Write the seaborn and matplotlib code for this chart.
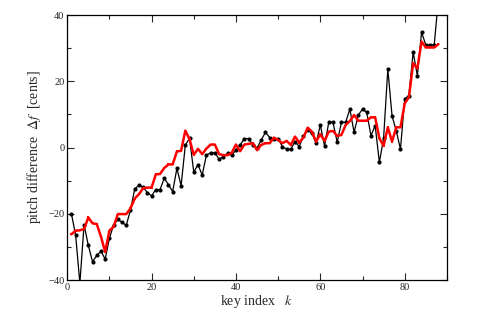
import numpy as np
import pandas as pd
import matplotlib
matplotlib.use('Agg')
import matplotlib.pyplot as plt
from matplotlib.ticker import MultipleLocator
import seaborn as sns

# key index and pitch deviations (cents)
keys = list(range(1, 89))
measured = [-20, -26.4, -41, -23.3, -29.5, -34.5, -32.6, -31.3, -33.7, -27.4,
            -23.4, -21.7, -22.6, -23.5, -18.9, -12.5, -11.4, -12.0, -13.6, -14.6,
            -12.7, -12.7, -9.3, -11.2, -13.3, -6.3, -11.5, 0.7, 2.8, -7.4,
            -5.2, -8.3, -2.3, -1.6, -1.6, -3.5, -2.8, -1.8, -2.3, -0.8,
            0.8, 2.7, 2.7, 0.8, -0.2, 2.3, 4.6, 3.0, 2.6, 2.6,
            0.3, -0.5, -0.5, 1.8, 0.3, 3.5, 5.3, 4.3, 1.3, 6.8,
            0.5, 7.6, 7.6, 1.6, 7.6, 7.6, 11.6, 4.6, 9.8, 11.6,
            10.6, 3.6, 6.6, -4.5, 2.8, 23.7, 9.6, 5.0, -0.5, 14.7,
            15.7, 28.8, 21.7, 34.8, 31, 31, 31, 45]
fitted = [-26.2, -25.1, -25, -24.6, -21.1, -22.9, -23.1, -26.9, -31.5, -25.1,
          -23.9, -20.1, -20.1, -20.1, -18.4, -15.4, -14.1, -12.3, -12.1, -12.1,
          -8.1, -8, -6.2, -5.1, -5.1, -1.2, -1, 5.1, 2.5, -2.2,
          -0.4, -2, -0.3, 0.9, 0.9, -2, -2.3, -2.3, -1.6, 0.9,
          -1.1, 0.9, 1.1, 1.3, -0.8, 0.8, 1.3, 1.3, 3.0, 2.3,
          1.3, 2.0, 0.8, 3.3, 1.5, 3.0, 6.0, 4.8, 1.8, 4.0,
          2.0, 4.8, 5.0, 3.5, 3.8, 6.8, 8.0, 9.8, 8.1, 8.1,
          8.1, 9.1, 9.1, 2.8, 0.5, 6.1, 1.8, 6.1, 6.1, 13.3,
          15.2, 25.4, 23.9, 32, 30.2, 30.2, 30.2, 31.2]

df = pd.DataFrame({'k': keys, 'measured': measured, 'fitted': fitted})

sns.set_style('ticks')
plt.rcParams['font.family'] = ['Liberation Serif', 'DejaVu Serif']
plt.rcParams['mathtext.fontset'] = 'stix'

fig = plt.figure(figsize=(4.8, 3.2), dpi=100)
ax = fig.add_axes([0.14, 0.125, 0.791, 0.828])

sns.lineplot(data=df, x='k', y='measured', ax=ax, color='black', lw=0.9,
             marker='o', markersize=3, markeredgewidth=0)
sns.lineplot(data=df, x='k', y='fitted', ax=ax, color='red', lw=1.8,
             marker='s', markersize=2, markeredgewidth=0)

ax.set_xlim(0, 90)
ax.set_ylim(-40, 40)
ax.xaxis.set_major_locator(MultipleLocator(20))
ax.xaxis.set_minor_locator(MultipleLocator(10))
ax.yaxis.set_major_locator(MultipleLocator(20))
ax.yaxis.set_minor_locator(MultipleLocator(10))
ax.tick_params(which='both', direction='in', top=True, right=True,
               labelsize=7.5, width=0.8, pad=2)
ax.tick_params(which='major', length=5)
ax.tick_params(which='minor', length=3)
for s in ax.spines.values():
    s.set_linewidth(0.9)
    s.set_color('black')

ax.set_xlabel(r'key index   $k$', fontsize=10, labelpad=1)
ax.set_ylabel(r'pitch difference  $\Delta f$  [cents]', fontsize=10, labelpad=4)

fig.savefig('out.png', dpi=100)
